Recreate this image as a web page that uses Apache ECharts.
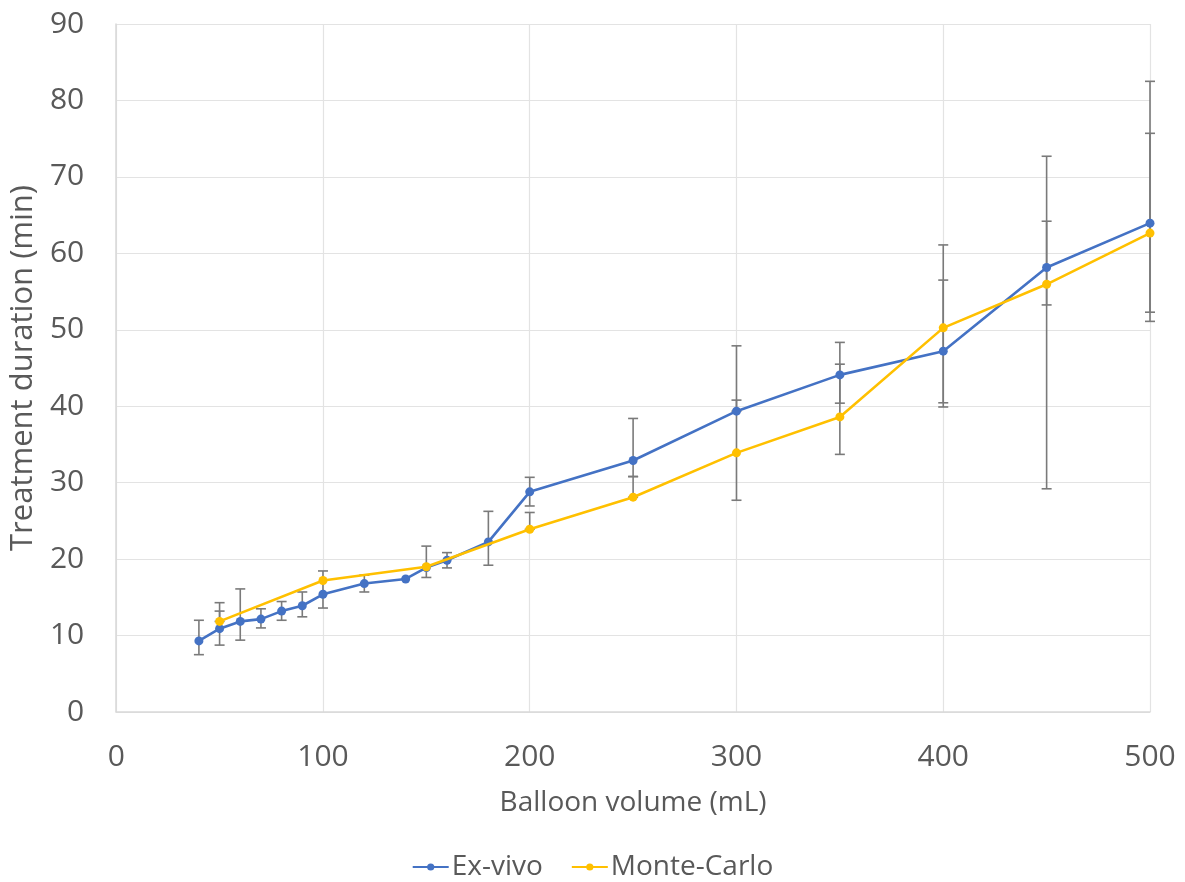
<!DOCTYPE html>
<html>
<head>
<meta charset="utf-8">
<script src="https://cdn.jsdelivr.net/npm/echarts@6/dist/echarts.min.js"></script>
<style>
  html, body { margin: 0; padding: 0; background: #fff; }
  #chart { width: 1185px; height: 882px; }
</style>
</head>
<body>
<div id="chart"></div>
<script>
  // ex-vivo measurements
  const exVolume = [40, 50, 60, 70, 80, 90, 100, 120, 140, 150, 160, 180, 200, 250, 300, 350, 400, 450, 500];
  const exDuration = [9.3, 10.9, 11.85, 12.15, 13.2, 13.9, 15.4, 16.8, 17.4, 18.9, 19.85, 22.25, 28.8, 32.9, 39.35, 44.1, 47.2, 58.15, 63.95];
  const exLow = [7.5, 8.75, 9.4, 11.0, 12.0, 12.45, 13.6, 15.7, null, 17.6, 18.85, 19.2, 26.95, 30.8, 39.35, 40.4, 39.9, 53.25, 52.3];
  const exHigh = [12.0, 13.2, 16.1, 13.5, 14.45, 15.7, 18.45, 17.9, null, 21.7, 20.85, 26.25, 30.7, 38.4, 47.9, 48.35, 56.5, 64.2, 75.7];

  // monte-carlo simulation
  const mcVolume = [50, 100, 150, 200, 250, 300, 350, 400, 450, 500];
  const mcDuration = [11.85, 17.2, 19.0, 23.9, 28.1, 33.9, 38.6, 50.25, 55.95, 62.65];
  const mcLow = [11.85, null, null, 23.9, 28.1, 27.7, 33.7, 40.45, 29.2, 51.1];
  const mcHigh = [14.3, null, null, 26.1, 30.8, 40.8, 45.5, 61.1, 72.7, 82.5];

  const textColor = '#595959';
  const fontFamily = '"Open Sans", "Noto Sans", sans-serif';

  const pairs = (xs, ys) => xs.map((x, i) => [x, ys[i]]);
  const bars = (xs, lo, hi) => xs.map((x, i) => [x, lo[i], hi[i]]).filter(d => d[1] != null);

  function renderErrorBar(params, api) {
    const lo = api.coord([api.value(0), api.value(1)]);
    const hi = api.coord([api.value(0), api.value(2)]);
    const w = 5;
    const style = { stroke: '#7a7a7a', lineWidth: 1.6 };
    return {
      type: 'group',
      children: [
        { type: 'line', shape: { x1: lo[0], y1: lo[1], x2: hi[0], y2: hi[1] }, style },
        { type: 'line', shape: { x1: lo[0] - w, y1: lo[1], x2: lo[0] + w, y2: lo[1] }, style },
        { type: 'line', shape: { x1: hi[0] - w, y1: hi[1], x2: hi[0] + w, y2: hi[1] }, style }
      ]
    };
  }

  const chart = echarts.init(document.getElementById('chart'));
  const option = {
    animation: false,
    backgroundColor: '#fff',
    textStyle: { fontFamily: fontFamily },
    grid: { left: 112, right: 35, top: 24, bottom: 170 },
    legend: {
      bottom: -4,
      left: 'center',
      itemWidth: 36,
      itemHeight: 9,
      itemGap: 28,
      textStyle: { color: textColor, fontSize: 28, fontFamily: fontFamily, padding: [0, 0, 0, -2] },
      data: ['Ex-vivo', 'Monte-Carlo']
    },
    xAxis: {
      type: 'value',
      min: 0,
      max: 500,
      interval: 100,
      name: 'Balloon volume (mL)',
      nameLocation: 'middle',
      nameGap: 77,
      nameTextStyle: { color: textColor, fontSize: 28, fontFamily: fontFamily },
      axisLine: { show: true, lineStyle: { color: '#d9d9d9', width: 1.5 } },
      axisTick: { show: false },
      axisLabel: { color: textColor, fontSize: 30, margin: 30, fontFamily: fontFamily },
      splitLine: { show: true, lineStyle: { color: '#e3e3e3', width: 1.2 } }
    },
    yAxis: {
      type: 'value',
      min: 0,
      max: 90,
      interval: 10,
      name: 'Treatment duration (min)',
      nameLocation: 'middle',
      nameGap: 72,
      nameTextStyle: { color: textColor, fontSize: 31, fontFamily: fontFamily },
      axisLine: { show: true, lineStyle: { color: '#d9d9d9', width: 1.5 } },
      axisTick: { show: false },
      axisLabel: { color: textColor, fontSize: 30, margin: 32, fontFamily: fontFamily },
      splitLine: { show: true, lineStyle: { color: '#e3e3e3', width: 1.2 } }
    },
    series: [
      {
        name: 'exErr',
        type: 'custom',
        renderItem: renderErrorBar,
        data: bars(exVolume, exLow, exHigh),
        z: 1,
        silent: true
      },
      {
        name: 'mcErr',
        type: 'custom',
        renderItem: renderErrorBar,
        data: bars(mcVolume, mcLow, mcHigh),
        z: 1,
        silent: true
      },
      {
        name: 'Ex-vivo',
        type: 'line',
        data: pairs(exVolume, exDuration),
        color: '#4472C4',
        symbol: 'circle',
        symbolSize: 9,
        lineStyle: { width: 2.6 },
        z: 3
      },
      {
        name: 'Monte-Carlo',
        type: 'line',
        data: pairs(mcVolume, mcDuration),
        color: '#FFC000',
        symbol: 'circle',
        symbolSize: 9,
        lineStyle: { width: 2.6 },
        z: 4
      }
    ]
  };
  chart.setOption(option);
</script>
</body>
</html>
